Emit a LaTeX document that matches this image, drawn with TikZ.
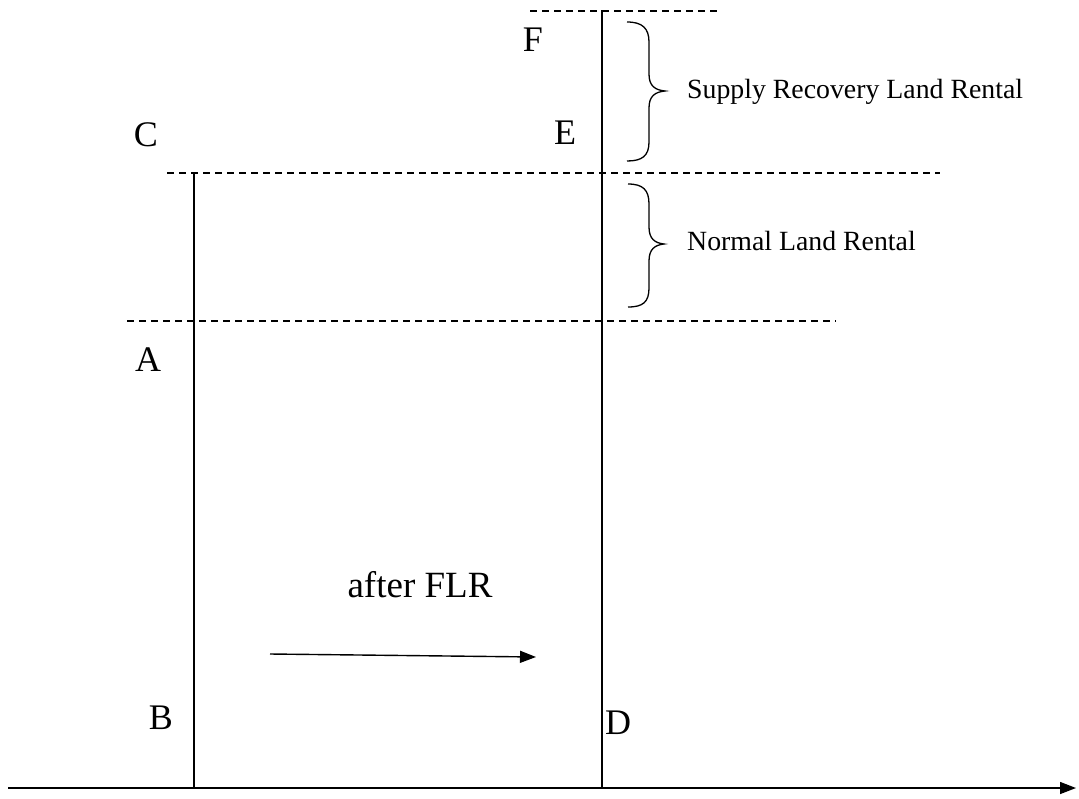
\documentclass[tikz,border=0pt]{standalone}
\usepackage{fontspec}
\setmainfont{Liberation Serif}
\usetikzlibrary{arrows.meta}
\begin{document}
\begin{tikzpicture}[x=1pt,y=-1pt,
  solidline/.style={line width=1.4pt},
  dashline/.style={line width=1.3pt, dash pattern=on 7pt off 5pt},
  bracepath/.style={line width=1.3pt},
  letter/.style={font=\fontsize{36}{36}\selectfont, inner sep=0pt},
  bracelabel/.style={font=\fontsize{27.8}{28}\selectfont, inner sep=0pt, anchor=west},
  arr/.style={line width=1.4pt, -{Triangle[length=16pt,width=12pt]}}]
\useasboundingbox (0,0) rectangle (1079,798);
% coordinates
\coordinate (axL) at (8,788);
\coordinate (axR) at (1076,788);
\coordinate (lTop) at (194,173);
\coordinate (lBot) at (194,788);
\coordinate (rTop) at (602,10);
\coordinate (rBot) at (602,788);
\coordinate (d1a) at (530,11);
\coordinate (d1b) at (718,11);
\coordinate (d2a) at (167,173);
\coordinate (d2b) at (940,173);
\coordinate (d3a) at (127,321);
\coordinate (d3b) at (836,321);
\coordinate (fa) at (270,654);
\coordinate (fb) at (536,657);
% axis
\draw[arr] (axL) -- (axR);
% verticals
\draw[solidline] (lTop) -- (lBot);
\draw[solidline] (rTop) -- (rBot);
% dashed
\draw[dashline] (d1a) -- (d1b);
\draw[dashline] (d2a) -- (d2b);
\draw[dashline] (d3a) -- (d3b);
% arrow
\draw[arr] (fa) -- (fb);
% braces
\draw[bracepath] (627,22) .. controls (642,22) and (649,28) .. (649,42) -- (649,74)
  .. controls (649,86) and (655,90) .. (665,91)
  .. controls (655,92) and (649,96) .. (649,108) -- (649,142)
  .. controls (649,156) and (642,161) .. (627,161);
\draw[bracepath] (628,184) .. controls (643,184) and (649,190) .. (649,204) -- (649,227)
  .. controls (649,239) and (655,243) .. (664,244)
  .. controls (655,245) and (649,249) .. (649,261) -- (649,288)
  .. controls (649,302) and (643,307) .. (628,307);
% labels
\node[letter] (F) at (533,40) {F};
\node[letter] (E) at (565,133) {E};
\node[letter] (C) at (146,135) {C};
\node[letter] (A) at (148,360) {A};
\node[letter] (B) at (161,718) {B};
\node[letter] (D) at (618,723) {D};
\node[font=\fontsize{37}{37}\selectfont, inner sep=0pt] (flr) at (420,585) {after FLR};
\node[bracelabel] (srl) at (687,92) {Supply Recovery Land Rental};
\node[bracelabel] (nlr) at (687,241) {Normal Land Rental};
\end{tikzpicture}
\end{document}
